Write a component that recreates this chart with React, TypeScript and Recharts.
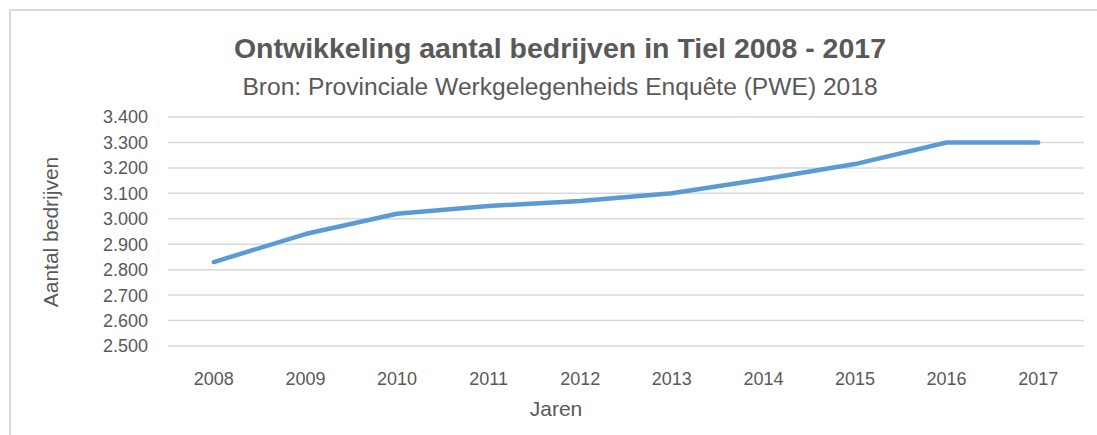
import { CartesianGrid, Line, LineChart, XAxis, YAxis } from "recharts";

const years = [2008, 2009, 2010, 2011, 2012, 2013, 2014, 2015, 2016, 2017];
const bedrijven = [2830, 2940, 3020, 3050, 3070, 3100, 3155, 3215, 3300, 3300];
const yTicks = [2500, 2600, 2700, 2800, 2900, 3000, 3100, 3200, 3300, 3400];

const title = "Ontwikkeling aantal bedrijven in Tiel 2008 - 2017";
const subtitle = "Bron: Provinciale Werkgelegenheids Enquête (PWE) 2018";
const yLabel = "Aantal bedrijven";
const xLabel = "Jaren";

const rows = years.map((jaar, i) => ({ jaar, aantal: bedrijven[i] }));
// tick marks sit between the years, like the category axis in the original
const edges = [...years.map((y) => y - 0.5), years[years.length - 1] + 0.5];

const FONT = '"Liberation Sans", Arial, sans-serif';
const TEXT = "#595959";
const GRID = "#d9d9d9";

const thousands = (v: number) => String(v).replace(/\B(?=(\d{3})+(?!\d))/g, ".");

export default function App() {
  return (
    <div
      style={{
        position: "absolute",
        left: 0,
        top: 0,
        width: 1097,
        height: 435,
        overflow: "hidden",
        background: "#ffffff",
        fontFamily: FONT,
      }}
    >
      <div
        style={{
          position: "absolute",
          left: 9,
          top: 9,
          width: 1120,
          height: 460,
          border: `2px solid ${GRID}`,
        }}
      />
      <div style={{ position: "absolute", left: 0, top: 0 }}>
        <LineChart
          width={1097}
          height={435}
          data={rows}
          margin={{ top: 117, right: 13, left: 0, bottom: 0 }}
        >
          <CartesianGrid vertical={false} stroke={GRID} strokeWidth={1.5} />
          <XAxis
            xAxisId="edges"
            dataKey="jaar"
            type="number"
            domain={[edges[0], edges[edges.length - 1]]}
            ticks={edges}
            interval={0}
            tick={false}
            tickSize={6}
            tickLine={{ stroke: GRID, strokeWidth: 1.5 }}
            axisLine={{ stroke: GRID, strokeWidth: 1.5 }}
            height={0}
          />
          <XAxis
            dataKey="jaar"
            type="number"
            domain={[edges[0], edges[edges.length - 1]]}
            ticks={years}
            interval={0}
            axisLine={false}
            tickLine={false}
            tickSize={0}
            tickMargin={26}
            height={89}
            tick={{ fontSize: 18, fill: TEXT, fontFamily: FONT }}
          />
          <YAxis
            domain={[2500, 3400]}
            ticks={yTicks}
            interval={0}
            tickFormatter={thousands}
            axisLine={false}
            tickLine={false}
            tickSize={0}
            tickMargin={20}
            width={168}
            tick={{ fontSize: 18, fill: TEXT, fontFamily: FONT }}
          />
          <Line
            type="linear"
            dataKey="aantal"
            stroke="#5b9bd5"
            strokeWidth={4.5}
            strokeLinecap="round"
            strokeLinejoin="round"
            dot={false}
            activeDot={false}
            isAnimationActive={false}
          />
        </LineChart>
      </div>
      <svg
        width={1097}
        height={435}
        style={{ position: "absolute", left: 0, top: 0, pointerEvents: "none" }}
      >
        <text
          x={560}
          y={58}
          textAnchor="middle"
          fontSize={28.5}
          fontWeight="bold"
          fill={TEXT}
          fontFamily={FONT}
        >
          {title}
        </text>
        <text x={560} y={95} textAnchor="middle" fontSize={24.6} fill={TEXT} fontFamily={FONT}>
          {subtitle}
        </text>
        <text
          x={0}
          y={0}
          transform="translate(58 232) rotate(-90)"
          textAnchor="middle"
          fontSize={21}
          fill={TEXT}
          fontFamily={FONT}
        >
          {yLabel}
        </text>
        <text x={556} y={416} textAnchor="middle" fontSize={21} fill={TEXT} fontFamily={FONT}>
          {xLabel}
        </text>
      </svg>
    </div>
  );
}
